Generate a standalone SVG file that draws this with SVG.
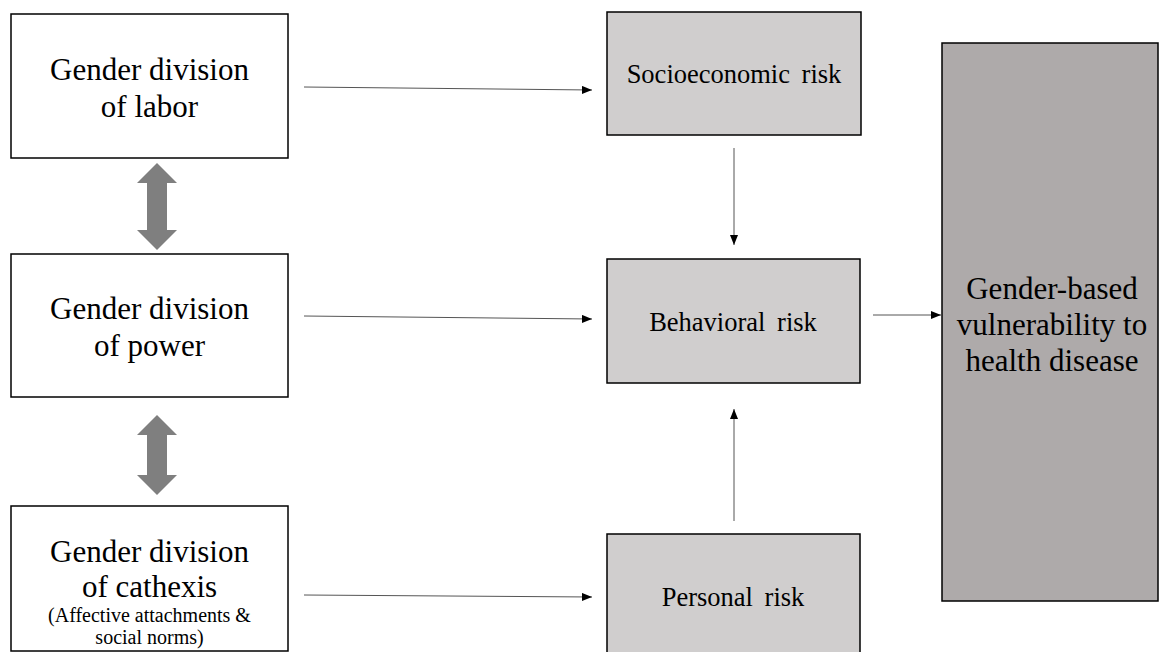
<svg xmlns="http://www.w3.org/2000/svg" width="1160" height="652" viewBox="0 0 1160 652">
<defs>
<marker id="ah" markerWidth="10" markerHeight="8" refX="10" refY="4" orient="auto" markerUnits="userSpaceOnUse">
<path d="M0,0 L10,4 L0,8 Z" fill="#000"/>
</marker>
<style>
.w{fill:#fff;stroke:#000;stroke-width:1.5}
.l{fill:#d0cece;stroke:#000;stroke-width:1.5}
.d{fill:#aeaaaa;stroke:#000;stroke-width:1.5}
text{font-family:'Liberation Serif','DejaVu Serif',serif;fill:#000;text-anchor:middle}
.big{font-size:31px}
.vb{font-size:31px}
.mid{font-size:26.5px;word-spacing:5px}
.sm{font-size:20px}
.c{stroke:#555;stroke-width:1;fill:none;marker-end:url(#ah)}
.da{fill:#7f7f7f}
</style>
</defs>
<g id="labor">
<rect class="w" x="11" y="14" width="277" height="144"/>
<text class="big" x="149.5" y="80">Gender division</text>
<text class="big" x="149.5" y="117">of labor</text>
</g>
<g id="power">
<rect class="w" x="11" y="254" width="277" height="143"/>
<text class="big" x="149.5" y="319">Gender division</text>
<text class="big" x="149.5" y="356">of power</text>
</g>
<g id="cathexis">
<rect class="w" x="11" y="506" width="277" height="145"/>
<text class="big" x="149.5" y="562">Gender division</text>
<text class="big" x="149.5" y="597">of cathexis</text>
<text class="sm" x="149.5" y="622">(Affective attachments &amp;</text>
<text class="sm" x="149.5" y="644">social norms)</text>
</g>
<g id="socio">
<rect class="l" x="607" y="12" width="254" height="123"/>
<text class="mid" x="734" y="83">Socioeconomic risk</text>
</g>
<g id="behav">
<rect class="l" x="607" y="259" width="253" height="124"/>
<text class="mid" x="733" y="331">Behavioral risk</text>
</g>
<g id="personal">
<rect class="l" x="607" y="534" width="253" height="130"/>
<text class="mid" x="733" y="606">Personal risk</text>
</g>
<g id="vuln">
<rect class="d" x="942" y="43" width="216" height="558"/>
<text class="vb" x="1052" y="299">Gender-based</text>
<text class="vb" x="1052" y="335">vulnerability to</text>
<text class="vb" x="1052" y="371">health disease</text>
</g>
<g id="connectors">
<path class="c" d="M304,87 L592,90"/>
<path class="c" d="M304,316 L592,319"/>
<path class="c" d="M304,595 L592,597"/>
<path class="c" d="M734,148 L734,245"/>
<path class="c" d="M734,521 L734,409"/>
<path class="c" d="M873,315 L941,315"/>
<path class="da" d="M157,163 L177,183 L167,183 L167,230 L177,230 L157,250 L137,230 L147,230 L147,183 L137,183 Z"/>
<path class="da" d="M157,415 L177,435 L167,435 L167,475 L177,475 L157,495 L137,475 L147,475 L147,435 L137,435 Z"/>
</g>
</svg>
